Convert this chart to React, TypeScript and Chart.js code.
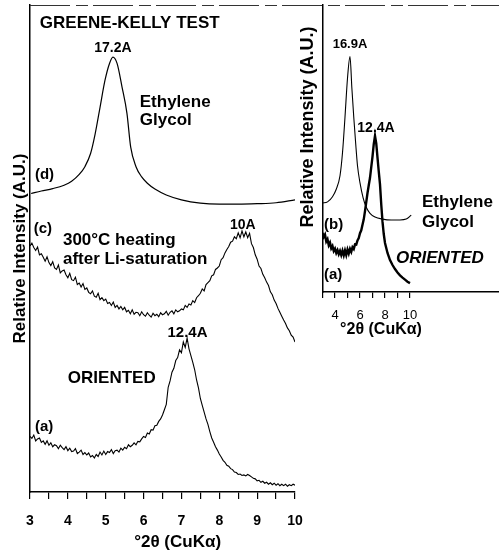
import React, { useEffect, useRef } from "react";
import { Chart, registerables } from "chart.js";

Chart.register(...registerables);

// ---------- DATA ----------
// Main panel: shared 2θ grid for the noisy scans
const twoTheta = [
  3, 3.05, 3.1, 3.15, 3.2, 3.25, 3.3, 3.35, 3.4, 3.45,
  3.5, 3.55, 3.6, 3.65, 3.7, 3.75, 3.8, 3.85, 3.9, 3.95,
  4, 4.05, 4.1, 4.15, 4.2, 4.25, 4.3, 4.35, 4.4, 4.45,
  4.5, 4.55, 4.6, 4.65, 4.7, 4.75, 4.8, 4.85, 4.9, 4.95,
  5, 5.05, 5.1, 5.15, 5.2, 5.25, 5.3, 5.35, 5.4, 5.45,
  5.5, 5.55, 5.6, 5.65, 5.7, 5.75, 5.8, 5.85, 5.9, 5.95,
  6, 6.05, 6.1, 6.15, 6.2, 6.25, 6.3, 6.35, 6.4, 6.45,
  6.5, 6.55, 6.6, 6.65, 6.7, 6.75, 6.8, 6.85, 6.9, 6.95,
  7, 7.05, 7.1, 7.15, 7.2, 7.25, 7.3, 7.35, 7.4, 7.45,
  7.5, 7.55, 7.6, 7.65, 7.7, 7.75, 7.8, 7.85, 7.9, 7.95,
  8, 8.05, 8.1, 8.15, 8.2, 8.25, 8.3, 8.35, 8.4, 8.45,
  8.5, 8.55, 8.6, 8.65, 8.7, 8.75, 8.8, 8.85, 8.9, 8.95,
  9, 9.05, 9.1, 9.15, 9.2, 9.25, 9.3, 9.35, 9.4, 9.45,
  9.5, 9.55, 9.6, 9.65, 9.7, 9.75, 9.8, 9.85, 9.9, 9.95,
  10,
];

// (c) 300°C heating after Li-saturation
const heatedLiSaturated = [
  50.5, 51.1, 50.2, 49.6, 50.3, 48.7, 48.9, 48.2, 47.4, 48.3,
  47.1, 46.5, 47.3, 46.0, 45.7, 46.6, 45.0, 45.4, 45.6, 44.6,
  44.0, 44.9, 43.6, 43.4, 44.1, 42.6, 42.9, 42.1, 42.8, 41.6,
  41.9, 41.0, 40.7, 41.3, 40.2, 40.0, 40.8, 39.5, 39.9, 39.3,
  39.6, 38.7, 38.9, 38.3, 39.0, 37.9, 38.3, 37.6, 38.1, 37.4,
  37.9, 37.0, 37.3, 36.6, 37.4, 36.5, 36.9, 36.8, 36.2, 37.0,
  36.4, 36.1, 36.8, 36.3, 35.9, 36.7, 36.2, 36.5, 36.0, 36.8,
  36.4, 36.6, 37.1, 36.3, 36.9, 37.2, 36.6, 37.4, 37.0, 37.2,
  37.6, 37.4, 38.3, 37.9, 38.6, 38.4, 39.3, 38.9, 39.9, 40.3,
  40.8, 41.7, 41.3, 42.6, 43.0, 43.4, 44.4, 44.6, 45.7, 46.0,
  46.4, 47.7, 48.1, 49.1, 49.8, 50.4, 51.3, 51.5, 52.4, 52.0,
  53.2, 52.2, 53.6, 52.4, 53.4, 52.2, 53.1, 51.0, 50.2, 48.7,
  47.8, 46.4, 45.9, 44.7, 44.0, 43.1, 42.4, 41.1, 40.5, 39.4,
  38.7, 37.7, 36.9, 36.1, 35.3, 34.6, 33.7, 33.1, 32.2, 31.8,
  30.8,
];

// (a) oriented sample
const orientedMain = [
  11.4, 11.0, 11.7, 10.5, 10.9, 11.1, 10.2, 10.5, 9.8, 10.5,
  9.6, 10.1, 9.3, 9.7, 9.5, 8.9, 9.6, 9.1, 8.7, 9.3,
  8.5, 9.0, 8.3, 8.4, 8.9, 7.9, 8.2, 8.6, 7.7, 8.1,
  7.6, 8.0, 7.2, 7.5, 7.0, 7.7, 7.3, 8.2, 7.6, 8.4,
  7.7, 8.3, 8.1, 8.7, 7.9, 8.5, 8.6, 8.2, 9.0, 8.6,
  9.2, 8.9, 9.7, 9.3, 9.6, 10.1, 9.7, 10.4, 10.3, 10.9,
  11.4, 11.2, 12.1, 11.9, 12.8, 12.7, 13.6, 13.7, 14.5, 15.0,
  15.8, 16.9, 18.0, 21.5, 22.8, 24.6, 25.4, 27.0, 27.6, 29.2,
  28.6, 30.8, 29.7, 31.6, 29.4, 28.0, 26.6, 25.1, 23.0, 21.4,
  19.2, 17.8, 16.4, 15.0, 13.9, 12.4, 11.1, 10.2, 9.3, 8.6,
  7.8, 7.2, 6.5, 6.1, 5.5, 5.3, 4.8, 4.6, 4.1, 4.0,
  3.6, 3.7, 3.4, 3.5, 3.3, 3.6, 3.4, 3.1, 2.8, 2.7,
  2.3, 2.4, 2.0, 2.2, 1.8, 2.0, 1.6, 1.9, 1.5, 1.8,
  1.4, 1.7, 1.3, 1.6, 1.3, 1.6, 1.2, 1.5, 1.3, 1.6,
  1.4,
];

// (d) ethylene glycol (smooth)
const glycolTheta = [3.03, 3.3, 3.6, 3.9, 4.1, 4.3, 4.45, 4.6, 4.72, 4.85, 4.98, 5.1, 5.19, 5.3, 5.43, 5.56, 5.66, 5.8, 5.95, 6.1, 6.3, 6.6, 7.0, 7.5, 8.0, 8.5, 9.0, 9.5, 10.0];
const glycolIntensity = [61.3, 61.8, 62.3, 63.0, 63.8, 65.2, 66.8, 69.5, 73.5, 79.0, 84.5, 88.0, 89.3, 88.0, 83.2, 77.8, 70.8, 66.8, 64.7, 63.4, 62.2, 61.0, 60.0, 59.3, 59.1, 59.1, 59.2, 59.4, 60.0];

const mainTickValues = [3, 3.5, 4, 4.5, 5, 5.5, 6, 6.5, 7, 7.5, 8, 8.5, 9, 9.5, 10];
const mainTickLabels = ["3", "", "4", "", "5", "", "6", "", "7", "", "8", "", "9", "", "10"];

// Inset panel
const insetGlycolTheta = [3.0, 3.4, 3.8, 4.1, 4.4, 4.6, 4.8, 5.0, 5.2, 5.35, 5.5, 5.65, 5.8, 6.0, 6.25, 6.5, 6.8, 7.2, 7.8, 8.5, 9.2, 9.7, 10.1];
const insetGlycolIntensity = [31.0, 31.4, 33.2, 35.8, 40.5, 48.5, 61.0, 74.5, 82.0, 71.0, 61.0, 52.0, 44.0, 38.0, 32.8, 29.5, 27.4, 26.1, 25.4, 25.1, 25.1, 25.4, 26.8];

const insetOrientedTheta = [
  3.0, 3.1, 3.2, 3.3, 3.4, 3.5, 3.6, 3.7, 3.8, 3.9,
  4.0, 4.1, 4.2, 4.3, 4.4, 4.5, 4.6, 4.7, 4.8, 4.9,
  5.0, 5.1, 5.2, 5.3, 5.4, 5.5, 5.6, 5.7, 5.8, 5.9,
  6.0, 6.1, 6.2, 6.3, 6.4, 6.5, 6.6, 6.7, 6.8, 6.9,
  7.0, 7.1, 7.2, 7.3, 7.4, 7.5, 7.6, 7.7, 7.8, 7.9,
  8.0, 8.2, 8.4, 8.6, 8.8, 9.0, 9.2, 9.4, 9.6, 9.8, 10.0,
];
const insetOrientedIntensity = [
  20.6, 19.2, 20.0, 17.6, 18.4, 16.3, 17.2, 15.2, 16.0, 14.3,
  15.1, 13.6, 14.6, 13.2, 14.3, 12.9, 14.4, 12.8, 14.5, 12.9,
  14.8, 13.4, 15.0, 14.0, 15.6, 15.0, 16.6, 16.5, 18.0, 18.8,
  20.5, 21.5, 23.4, 25.3, 28.2, 31.3, 34.5, 37.2, 39.8, 43.5,
  47.2, 51.5, 54.4, 51.8, 46.8, 42.0, 37.5, 30.5, 24.5, 20.2,
  17.1, 13.6, 11.1, 9.4, 8.0, 6.8, 5.8, 5.0, 4.3, 3.6, 3.1,
];

const insetTickValues = [3, 4, 5, 6, 7, 8, 9, 10];
const insetTickLabels = ["", "4", "", "6", "", "8", "", "10"];

// ---------- TEXT ANNOTATIONS (in data coordinates of each panel) ----------
const FONT = '"Liberation Sans", Arial, Helvetica, sans-serif';

type FigText = { text: string; x: number; y: number; font: string; align?: CanvasTextAlign; rotate?: boolean };

const mainTexts: FigText[] = [
  { text: "GREENE-KELLY TEST", x: 3.26, y: 96.3, font: `bold 17px ${FONT}` },
  { text: "17.2A", x: 5.19, y: 91.2, font: `bold 14px ${FONT}`, align: "center" },
  { text: "Ethylene", x: 5.9, y: 80.1, font: `bold 17px ${FONT}` },
  { text: "Glycol", x: 5.9, y: 76.4, font: `bold 17px ${FONT}` },
  { text: "(d)", x: 3.13, y: 65.1, font: `bold 15px ${FONT}` },
  { text: "(c)", x: 3.1, y: 54.0, font: `bold 15px ${FONT}` },
  { text: "300°C heating", x: 3.87, y: 51.7, font: `bold 17px ${FONT}` },
  { text: "after Li-saturation", x: 3.87, y: 47.8, font: `bold 17px ${FONT}` },
  { text: "10A", x: 8.62, y: 54.8, font: `bold 14px ${FONT}`, align: "center" },
  { text: "12.4A", x: 7.16, y: 32.6, font: `bold 15px ${FONT}`, align: "center" },
  { text: "ORIENTED", x: 4.0, y: 23.4, font: `bold 17px ${FONT}` },
  { text: "(a)", x: 3.13, y: 13.3, font: `bold 15px ${FONT}` },
  { text: "°2θ (CuKα)", x: 6.9, y: -10.3, font: `bold 17px ${FONT}`, align: "center" },
];

const insetTexts: FigText[] = [
  { text: "16.9A", x: 5.2, y: 86.1, font: `bold 13px ${FONT}`, align: "center" },
  { text: "12.4A", x: 7.28, y: 57.1, font: `bold 14px ${FONT}`, align: "center" },
  { text: "Ethylene", x: 10.96, y: 31.4, font: `bold 17px ${FONT}` },
  { text: "Glycol", x: 10.96, y: 24.4, font: `bold 17px ${FONT}` },
  { text: "(b)", x: 3.12, y: 23.3, font: `bold 15px ${FONT}` },
  { text: "(a)", x: 3.12, y: 5.9, font: `bold 15px ${FONT}` },
  { text: "ORIENTED", x: 8.88, y: 11.8, font: `italic bold 17px ${FONT}` },
  { text: "°2θ (CuKα)", x: 7.68, y: -13.2, font: `bold 16px ${FONT}`, align: "center" },
  { text: "Relative Intensity (A.U.)", x: 1.84, y: 57.5, font: `bold 18px ${FONT}`, align: "center", rotate: true },
];

const figureTextPlugin = {
  id: "figureText",
  afterDatasetsDraw(chart: any, _args: any, opts: any) {
    const { ctx, chartArea } = chart;
    const xs = chart.scales.x;
    const ys = chart.scales.y;
    ctx.save();
    if (opts.topRule) {
      ctx.strokeStyle = "#333";
      ctx.lineWidth = 1.2;
      ctx.setLineDash([40, 6, 12, 5]);
      ctx.beginPath();
      ctx.moveTo(chartArea.left, chartArea.top + 0.5);
      ctx.lineTo(chart.width, chartArea.top + 0.5);
      ctx.stroke();
      ctx.setLineDash([]);
    }
    ctx.fillStyle = "#000";
    ctx.textBaseline = "middle";
    for (const t of (opts.items || []) as FigText[]) {
      ctx.font = t.font;
      ctx.textAlign = t.align || "left";
      const px = xs.getPixelForValue(t.x);
      const py = ys.getPixelForValue(t.y);
      if (t.rotate) {
        ctx.save();
        ctx.translate(px, py);
        ctx.rotate(-Math.PI / 2);
        ctx.fillText(t.text, 0, 0);
        ctx.restore();
      } else {
        ctx.fillText(t.text, px, py);
      }
    }
    ctx.restore();
  },
};

const pts = (xs: number[], ys: number[]) => xs.map((x, i) => ({ x, y: ys[i] }));

export default function App() {
  const mainRef = useRef<HTMLCanvasElement>(null);
  const insetRef = useRef<HTMLCanvasElement>(null);

  useEffect(() => {
    if (!mainRef.current || !insetRef.current) return;

    const main = new Chart(mainRef.current, {
      type: "line",
      data: {
        datasets: [
          {
            label: "(d) Ethylene Glycol",
            data: pts(glycolTheta, glycolIntensity),
            borderColor: "#000",
            borderWidth: 1.2,
            pointRadius: 0,
            cubicInterpolationMode: "monotone",
          },
          {
            label: "(c) 300°C heating after Li-saturation",
            data: pts(twoTheta, heatedLiSaturated),
            borderColor: "#000",
            borderWidth: 1.1,
            pointRadius: 0,
            tension: 0,
          },
          {
            label: "(a) ORIENTED",
            data: pts(twoTheta, orientedMain),
            borderColor: "#000",
            borderWidth: 1.1,
            pointRadius: 0,
            tension: 0,
          },
        ],
      },
      options: {
        responsive: false,
        animation: false,
        layout: { padding: { left: 0, top: 5, right: 204, bottom: 0 } },
        plugins: {
          legend: { display: false },
          tooltip: { enabled: false },
          figureText: { items: mainTexts, topRule: true },
        } as any,
        scales: {
          x: {
            type: "linear",
            min: 3,
            max: 10,
            afterFit: (s: any) => { s.height = 63; },
            afterBuildTicks: (s: any) => { s.ticks = mainTickValues.map((v) => ({ value: v })); },
            ticks: {
              autoSkip: false,
              maxRotation: 0,
              padding: 14,
              color: "#000",
              font: { family: FONT, size: 14, weight: "bold" },
              callback: (_v: any, i: number) => mainTickLabels[i],
            },
            grid: { drawOnChartArea: false, drawTicks: true, tickLength: 7, color: "#000", lineWidth: 1.2 },
            border: { display: true, color: "#000", width: 1.5 },
          },
          y: {
            min: 0,
            max: 100,
            afterFit: (s: any) => { s.width = 30; },
            ticks: { display: false },
            grid: { display: false },
            border: { display: true, color: "#000", width: 1.5 },
            title: {
              display: true,
              text: "Relative Intensity (A.U.)",
              color: "#000",
              font: { family: FONT, size: 17, weight: "bold" },
              padding: { top: 10, bottom: 0 },
            },
          },
        },
      },
      plugins: [figureTextPlugin],
    });

    const inset = new Chart(insetRef.current, {
      type: "line",
      data: {
        datasets: [
          {
            label: "(b) Ethylene Glycol",
            data: pts(insetGlycolTheta, insetGlycolIntensity),
            borderColor: "#000",
            borderWidth: 1.1,
            pointRadius: 0,
            cubicInterpolationMode: "monotone",
          },
          {
            label: "(a) ORIENTED",
            data: pts(insetOrientedTheta, insetOrientedIntensity),
            borderColor: "#000",
            borderWidth: 2.4,
            pointRadius: 0,
            tension: 0,
          },
        ],
      },
      options: {
        responsive: false,
        animation: false,
        layout: { padding: { left: 0, top: 5, right: 0, bottom: 0 } },
        plugins: {
          legend: { display: false },
          tooltip: { enabled: false },
          figureText: { items: insetTexts, topRule: false },
        } as any,
        scales: {
          x: {
            type: "linear",
            min: 3,
            max: 17.12,
            afterFit: (s: any) => { s.height = 53; },
            afterBuildTicks: (s: any) => { s.ticks = insetTickValues.map((v) => ({ value: v })); },
            ticks: {
              autoSkip: false,
              maxRotation: 0,
              padding: 10,
              color: "#000",
              font: { family: FONT, size: 13 },
              callback: (_v: any, i: number) => insetTickLabels[i],
            },
            grid: { drawOnChartArea: false, drawTicks: true, tickLength: 6, color: "#000", lineWidth: 1.2 },
            border: { display: true, color: "#000", width: 1.5 },
          },
          y: {
            min: 0,
            max: 100,
            afterFit: (s: any) => { s.width = 32.5; },
            ticks: { display: false },
            grid: { display: false },
            border: { display: true, color: "#000", width: 1.5 },
          },
        },
      },
      plugins: [figureTextPlugin],
    });

    return () => {
      main.destroy();
      inset.destroy();
    };
  }, []);

  return (
    <div style={{ position: "absolute", left: 0, top: 0, width: 499, height: 555, background: "#fff", overflow: "hidden" }}>
      <canvas ref={mainRef} width={499} height={555} style={{ position: "absolute", left: 0, top: 0 }} />
      <canvas ref={insetRef} width={209} height={345} style={{ position: "absolute", left: 290, top: 0 }} />
    </div>
  );
}
